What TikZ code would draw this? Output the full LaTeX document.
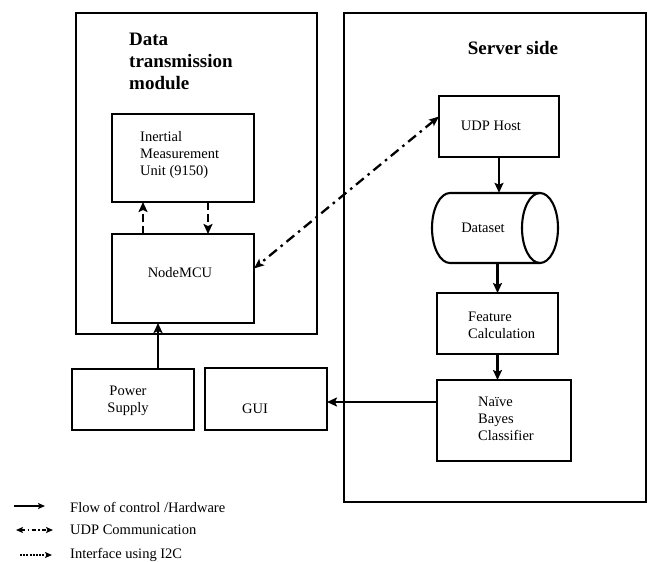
\documentclass[tikz,border=0pt]{standalone}
\usepackage{fontspec}
\setmainfont{Liberation Serif}
\usetikzlibrary{arrows.meta}
\begin{document}
\begin{tikzpicture}[x=1pt,y=-1pt,
  frame/.style={draw, line width=1.7pt, inner sep=0pt, outer sep=0pt, anchor=north west},
  box/.style={draw, line width=2.1pt, inner sep=0pt, outer sep=0pt, anchor=north west, fill=white},
  txt/.style={inner sep=0pt, font=\fontsize{14.5}{17}\selectfont},
  ttl/.style={inner sep=0pt, font=\fontsize{19}{22}\selectfont\bfseries},
  arr/.style={line width=2.6pt, -{Stealth[length=10pt,width=9pt,inset=2pt]}},
  iarr/.style={line width=2.6pt, dash pattern=on 8pt off 4pt, -{Stealth[length=10pt,width=9pt,inset=2pt]}},
  udparr/.style={line width=2.3pt, dash pattern=on 10pt off 5pt on 2.5pt off 5pt, {Stealth[length=10pt,width=8pt,inset=2pt]}-{Stealth[length=10pt,width=8pt,inset=2pt]}},
  legarr/.style={line width=1.5pt, -{Stealth[length=7pt,width=6pt,inset=1.5pt]}},
]
\useasboundingbox (0,0) rectangle (656,562);
% big frames
\node[frame, minimum width=241pt, minimum height=321pt] (dtm) at (76,13) {};
\node[frame, minimum width=302pt, minimum height=489pt] (srv) at (344,13) {};
% titles
\node[ttl, anchor=north west, align=left] (dtmt) at (129,33) {Data\\transmission\\module};
\node[ttl] (srvt) at (513,48) {Server side};
% left side boxes
\node[box, minimum width=142pt, minimum height=88pt] (imu) at (112,114) {};
\node[txt, anchor=west, align=left] (imut) at (140,155) {Inertial\\Measurement\\Unit (9150)};
\node[box, minimum width=142pt, minimum height=89pt] (mcu) at (112,234) {};
\node[txt] (mcut) at (180,273) {NodeMCU};
\node[box, minimum width=122pt, minimum height=61pt] (ps) at (72,369) {};
\node[txt, align=center] (pst) at (128,401) {Power\\Supply};
\node[box, minimum width=122pt, minimum height=62pt] (gui) at (205,368) {};
\node[txt] (guit) at (255,409) {GUI};
% server side boxes
\node[box, minimum width=120pt, minimum height=61pt] (udp) at (439,96) {};
\node[txt] (udpt) at (491,126) {UDP Host};
% cylinder
\filldraw[fill=white, line width=2.1pt] (540,193) -- (450,193) arc[start angle=90, end angle=270, x radius=18pt, y radius=35pt] -- (540,263);
\draw[line width=2.1pt] (540,228) ellipse[x radius=18pt, y radius=35pt];
\node[inner sep=0pt, minimum width=126pt, minimum height=70pt] (ds) at (495,228) {};
\node[txt] (dst) at (483,228) {Dataset};
\node[box, minimum width=121pt, minimum height=61pt] (feat) at (437,293) {};
\node[txt, anchor=west, align=left] (featt) at (468,325) {Feature\\Calculation};
\node[box, minimum width=134pt, minimum height=81pt] (nb) at (437,380) {};
\node[txt, anchor=west, align=left] (nbt) at (478,419) {Naïve\\Bayes\\Classifier};
% connectors
\draw[arr] (udp.south) -- (udp.south |- ds.north);
\coordinate (dsb) at (feat.north |- ds.south);
\draw[arr] (dsb) -- (feat.north);
\draw[arr] (feat.south) -- (feat.south |- nb.north);
\coordinate (nbg) at ([yshift=18.5pt]nb.west);
\draw[arr] (nbg) -- (nbg -| gui.east);
\coordinate (pwr) at ([xshift=25pt]ps.north);
\draw[arr] (pwr) -- (pwr |- mcu.south);
\coordinate (iup) at ([xshift=-40pt]mcu.north);
\draw[iarr] (iup) -- (iup |- imu.south);
\coordinate (idn) at ([xshift=25pt]imu.south);
\draw[iarr] (idn) -- (idn |- mcu.north);
\draw[udparr] ([yshift=10pt]udp.west) -- ([yshift=10pt]mcu.east);
% legend
\coordinate (l1a) at (14,506); \coordinate (l1b) at (45,506);
\coordinate (l2a) at (16,530); \coordinate (l2b) at (53,530);
\coordinate (l3a) at (20,555); \coordinate (l3b) at (52,555);
\draw[legarr] (l1a) -- (l1b);
\draw[line width=1.5pt, dash pattern=on 4pt off 2.5pt on 1.5pt off 2.5pt, {Stealth[length=7pt,width=6pt,inset=1.5pt]}-{Stealth[length=7pt,width=6pt,inset=1.5pt]}] (l2a) -- (l2b);
\draw[legarr, dash pattern=on 2pt off 1.2pt] (l3a) -- (l3b);
\node[txt, anchor=west] (lt1) at (70,507) {Flow of control /Hardware};
\node[txt, anchor=west] (lt2) at (70,530) {UDP Communication};
\node[txt, anchor=west] (lt3) at (70,555) {Interface using I2C};
\end{tikzpicture}
\end{document}
